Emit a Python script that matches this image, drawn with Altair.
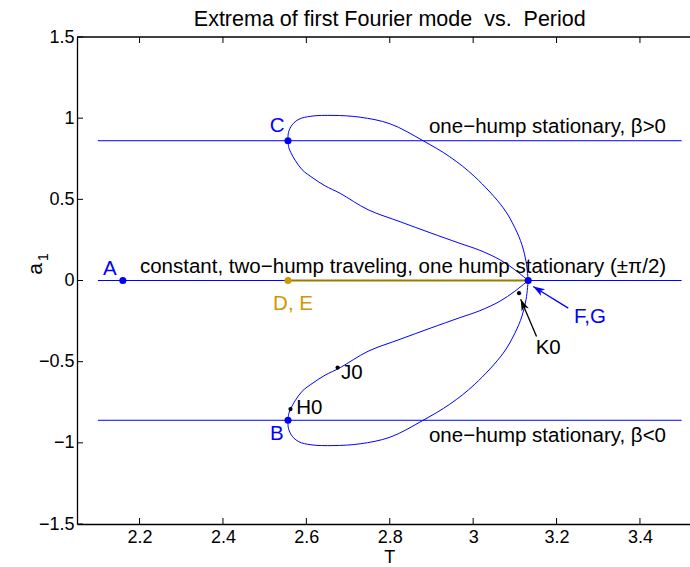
import altair as alt
import pandas as pd

FONT = "Liberation Sans"
BLUE = "#0000ff"
ORANGE = "#cc9900"
W, H = 613, 487
XDOM = [2.05, 3.52]
YDOM = [-1.5, 1.5]

# ---------------- data ----------------
x_ticks = [2.2, 2.4, 2.6, 2.8, 3.0, 3.2, 3.4]
y_ticks = [-1.5, -1.0, -0.5, 0.0, 0.5, 1.0, 1.5]

# horizontal branches (one-hump beta>0, constant, one-hump beta<0)
h_levels = [0.861, 0.0, -0.861]
h_T_start = 2.1
h_T_end = 3.5

# upper loop, outer branch (C -> top -> F,G)
uo_T = [2.556, 2.557, 2.566, 2.582, 2.611, 2.664, 2.729, 2.801, 2.880, 2.944, 3.004, 3.072, 3.100, 3.117, 3.127, 3.132]
uo_a = [0.861, 0.910, 0.959, 0.993, 1.012, 1.017, 1.006, 0.965, 0.861, 0.762, 0.639, 0.448, 0.325, 0.220, 0.115, 0.0]
# upper loop, inner branch (C -> F,G)
ui_T = [2.556, 2.558, 2.563, 2.573, 2.590, 2.616, 2.645, 2.681, 2.748, 2.825, 2.897, 2.968, 3.016, 3.064, 3.100, 3.132]
ui_a = [0.861, 0.818, 0.787, 0.741, 0.682, 0.631, 0.583, 0.537, 0.436, 0.362, 0.294, 0.229, 0.186, 0.128, 0.066, 0.0]
# lower loop, outer branch (B -> bottom -> F,G)
lo_T = [2.556, 2.557, 2.566, 2.582, 2.611, 2.664, 2.729, 2.801, 2.880, 2.944, 3.004, 3.072, 3.100, 3.117, 3.127, 3.132]
lo_a = [-0.861, -0.910, -0.959, -0.993, -1.012, -1.017, -1.006, -0.965, -0.861, -0.762, -0.639, -0.448, -0.325, -0.220, -0.115, 0.0]
# lower loop, inner branch (B -> H0 -> J0 -> K0 -> F,G)
li_T = [2.556, 2.558, 2.563, 2.573, 2.590, 2.616, 2.645, 2.681, 2.748, 2.825, 2.897, 2.968, 3.016, 3.064, 3.100, 3.132]
li_a = [-0.861, -0.818, -0.787, -0.741, -0.682, -0.631, -0.583, -0.537, -0.436, -0.362, -0.294, -0.229, -0.186, -0.128, -0.066, 0.0]

# orange segment (constant / two-hump traveling)
orange_T = [2.556, 3.132]

# marked points
blue_pts_T = [2.160, 2.556, 2.556, 3.132]
blue_pts_a = [0.0, 0.861, -0.861, 0.0]
black_pts_T = [2.562, 2.675, 3.110]
black_pts_a = [-0.792, -0.536, -0.078]
orange_pt_T = [2.556]
orange_pt_a = [0.0]

# annotations
blue_lbl = ["A", "C", "B", "F,G"]
blue_lbl_T = [2.129, 2.530, 2.529, 3.280]
blue_lbl_a = [0.072, 0.949, -0.946, -0.222]
black_lbl = ["H0", "J0", "K0"]
black_lbl_T = [2.607, 2.709, 3.180]
black_lbl_a = [-0.786, -0.571, -0.417]
orange_lbl = ["D, E"]
orange_lbl_T = [2.568]
orange_lbl_a = [-0.144]
side_lbl = ["one\u2212hump stationary, \u03b2>0",
            "constant, two\u2212hump traveling, one hump stationary (\u00b1\u03c0/2)",
            "one\u2212hump stationary, \u03b2<0"]
side_lbl_T = [2.894, 2.201, 2.894]
side_lbl_a = [0.947, 0.084, -0.955]

# arrows: tail -> tip
blue_arrow_T = [3.228, 3.144]
blue_arrow_a = [-0.170, -0.037]
black_arrow_T = [3.152, 3.114]
black_arrow_a = [-0.345, -0.115]

title_txt = "Extrema of first Fourier mode\u00a0 vs.\u00a0 Period"
x_title = "T"
center_T = 2.8

# ---------------- helpers ----------------
AX = alt.Axis(values=x_ticks, format="~g", title=None, grid=False, tickSize=0,
              labelPadding=4, labelFont=FONT, labelFontSize=18, labelColor="black",
              domainColor="black", domainWidth=1.3)
AY = alt.Axis(values=y_ticks, format="~g", title=None, grid=False, tickSize=0,
              labelPadding=3, labelFont=FONT, labelFontSize=18, labelColor="black",
              domainColor="black", domainWidth=1.3)
SX = alt.Scale(domain=XDOM, nice=False, zero=False)
SY = alt.Scale(domain=YDOM, nice=False, zero=False)


def X(field="T"):
    return alt.X(f"{field}:Q", scale=SX, axis=AX)


def Y(field="a"):
    return alt.Y(f"{field}:Q", scale=SY, axis=AY)


layers = []

# top frame line
layers.append(alt.Chart(pd.DataFrame({"a": [1.5]})).mark_rule(color="black", strokeWidth=1.3).encode(
    y=Y(), x=alt.value(0), x2=alt.value(W)))

# inward ticks
xt_df = pd.DataFrame({"T": x_ticks})
yt_df = pd.DataFrame({"a": y_ticks})
layers.append(alt.Chart(xt_df).mark_rule(color="black", strokeWidth=1).encode(
    x=X(), y=alt.value(H), y2=alt.value(H - 6)))
layers.append(alt.Chart(xt_df).mark_rule(color="black", strokeWidth=1).encode(
    x=X(), y=alt.value(0), y2=alt.value(6)))
layers.append(alt.Chart(yt_df).mark_rule(color="black", strokeWidth=1).encode(
    y=Y(), x=alt.value(0), x2=alt.value(6)))

# horizontal branches
h_df = pd.DataFrame({"a": h_levels, "T": [h_T_start] * 3, "T2": [h_T_end] * 3})
layers.append(alt.Chart(h_df).mark_rule(color=BLUE, strokeWidth=1).encode(
    x=X(), x2="T2:Q", y=Y()))

# loops
rows = []
for name, Ts, As in [("uo", uo_T, uo_a), ("ui", ui_T, ui_a), ("lo", lo_T, lo_a), ("li", li_T, li_a)]:
    for i, (t, a) in enumerate(zip(Ts, As)):
        rows.append({"branch": name, "o": i, "T": t, "a": a})
curve_df = pd.DataFrame(rows)
layers.append(alt.Chart(curve_df).mark_line(color=BLUE, strokeWidth=1, interpolate="catmull-rom").encode(
    x=X(), y=Y(), detail="branch:N", order="o:Q"))

# orange segment
o_df = pd.DataFrame({"T": [orange_T[0]], "T2": [orange_T[1]], "a": [0.0]})
layers.append(alt.Chart(o_df).mark_rule(color="#a07a00", strokeWidth=2.2).encode(
    x=X(), x2="T2:Q", y=Y()))

# points
layers.append(alt.Chart(pd.DataFrame({"T": blue_pts_T, "a": blue_pts_a})).mark_circle(
    color=BLUE, size=50, opacity=1).encode(x=X(), y=Y()))
layers.append(alt.Chart(pd.DataFrame({"T": orange_pt_T, "a": orange_pt_a})).mark_circle(
    color=ORANGE, size=50, opacity=1).encode(x=X(), y=Y()))
layers.append(alt.Chart(pd.DataFrame({"T": black_pts_T, "a": black_pts_a})).mark_circle(
    color="black", size=18, opacity=1).encode(x=X(), y=Y()))


# labels
def labels(txt, Ts, As, color, align="center", size=20.5):
    df = pd.DataFrame({"txt": txt, "T": Ts, "a": As})
    return alt.Chart(df).mark_text(color=color, font=FONT, fontSize=size, align=align,
                                   baseline="middle").encode(x=X(), y=Y(), text="txt:N")


layers.append(labels(blue_lbl, blue_lbl_T, blue_lbl_a, BLUE))
layers.append(labels(black_lbl, black_lbl_T, black_lbl_a, "black"))
layers.append(labels(orange_lbl, orange_lbl_T, orange_lbl_a, ORANGE))
layers.append(labels(side_lbl, side_lbl_T, side_lbl_a, "black", align="left"))

# arrows
HEAD = "M0,0 L0.6,1.8 L0,1.3 L-0.6,1.8 Z"
for Ts, As, col, ang in [(blue_arrow_T, blue_arrow_a, BLUE, 301.7), (black_arrow_T, black_arrow_a, "black", 336.9)]:
    adf = pd.DataFrame({"T": Ts, "a": As, "o": [0, 1]})
    layers.append(alt.Chart(adf).mark_line(color=col, strokeWidth=1.3).encode(x=X(), y=Y(), order="o:Q"))
    layers.append(alt.Chart(adf.iloc[[1]]).mark_point(shape=HEAD, filled=True, color=col, size=170,
                                                       angle=ang, opacity=1).encode(x=X(), y=Y()))

# title and axis titles
layers.append(alt.Chart(pd.DataFrame({"t": [title_txt], "T": [center_T]})).mark_text(
    font=FONT, fontSize=21.5, color="black", align="center", baseline="middle").encode(
    text="t:N", x=X(), y=alt.value(-17)))
layers.append(alt.Chart(pd.DataFrame({"t": [x_title], "T": [center_T]})).mark_text(
    font=FONT, fontSize=18, color="black", align="center", baseline="middle").encode(
    text="t:N", x=X(), y=alt.value(521)))
layers.append(alt.Chart(pd.DataFrame({"t": ["a"]})).mark_text(
    font=FONT, fontSize=21, color="black", align="center", baseline="middle", angle=270).encode(
    text="t:N", x=alt.value(-41), y=alt.value(232)))
layers.append(alt.Chart(pd.DataFrame({"t": ["1"]})).mark_text(
    font=FONT, fontSize=14, color="black", align="center", baseline="middle", angle=270).encode(
    text="t:N", x=alt.value(-33), y=alt.value(220)))

chart = alt.layer(*layers).properties(
    width=W, height=H,
    autosize=alt.AutoSizeParams(type="none"),
    padding={"left": 77, "top": 37, "right": 0, "bottom": 43},
    background="white",
).configure_view(stroke=None)

chart.save("out.html", embed_options={"renderer": "svg", "actions": False})
